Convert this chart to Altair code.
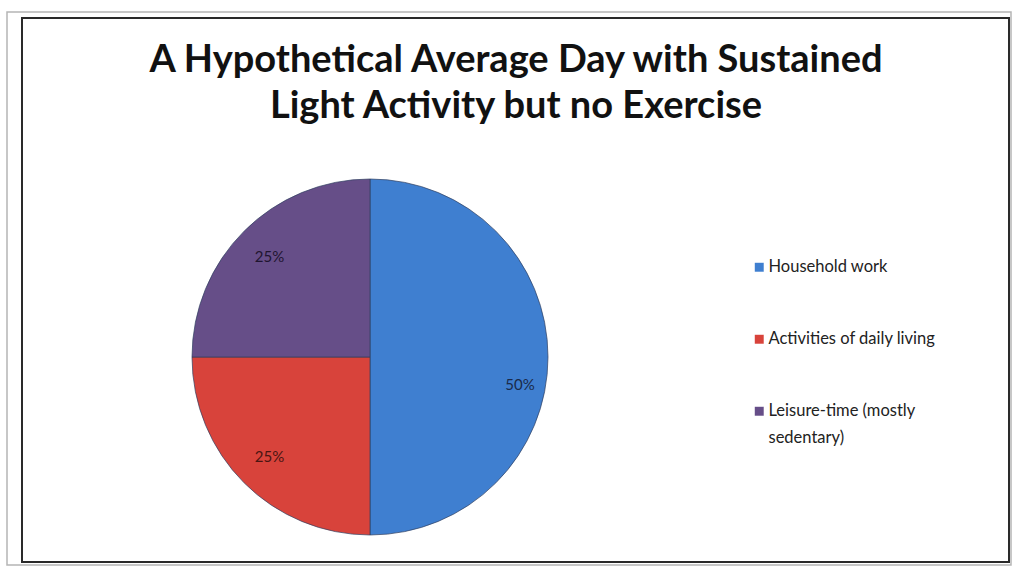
import altair as alt
import pandas as pd

# Share of an average day spent in each kind of activity
categories = ["Household work", "Activities of daily living", "Leisure-time (mostly sedentary)"]
shares = [50, 25, 25]
labels = ["50%", "25%", "25%"]
colors = ["#3f7fd0", "#d8433b", "#664e88"]
label_colors = ["#1a2a4a", "#4a1512", "#1f1530"]
title_lines = ["A Hypothetical Average Day with Sustained", "Light Activity but no Exercise"]

df = pd.DataFrame({
    "category": categories,
    "share": shares,
    "label": labels,
    "order": list(range(len(categories))),
    "label_color": label_colors,
})

W, H = 1013, 569
CX, CY, R = 370, 357, 178

color_scale = alt.Scale(domain=categories, range=colors)
theta_scale = alt.Scale(domain=[0, 100], range=[0, 6.283185307179586])

pie = alt.Chart(df).mark_arc(
    outerRadius=R, stroke="#2f3f5f", strokeWidth=1, strokeOpacity=0.7
).encode(
    theta=alt.Theta("share:Q", stack=True),
    order=alt.Order("order:Q"),
    x=alt.value(CX),
    y=alt.value(CY),
    color=alt.Color(
        "category:N",
        scale=color_scale,
        sort=categories,
        legend=alt.Legend(
            title=None,
            orient="none",
            legendX=751,
            legendY=259,
            symbolType="square",
            symbolSize=80,
            symbolStrokeWidth=0,
            labelFont="Lato",
            labelFontSize=16.5,
            labelColor="#222222",
            labelLimit=300,
            labelOffset=1,
            rowPadding=55,
            labelBaseline="middle",
            labelExpr="datum.label == 'Leisure-time (mostly sedentary)' ? ['Leisure-time (mostly', 'sedentary)'] : datum.label",
        ),
    ),
)

# Mid-angle of each slice, computed once so later filters keep the positions
labelled = alt.Chart(df).transform_window(
    cum="sum(share)", sort=[alt.SortField("order")]
).transform_calculate(
    mid="datum.cum - datum.share / 2"
)

pct_small = labelled.transform_filter(alt.datum.share < 50).mark_text(
    radius=142, font="Lato", fontSize=15
).encode(
    theta=alt.Theta("mid:Q", scale=theta_scale, stack=False),
    x=alt.value(CX),
    y=alt.value(CY),
    text="label:N",
    color=alt.Color("label_color:N", scale=None),
)

# The big slice's label sits a little below its midline
pct_big = labelled.transform_filter(alt.datum.share >= 50).mark_text(
    radius=150, dy=28, font="Lato", fontSize=15
).encode(
    theta=alt.Theta("mid:Q", scale=theta_scale, stack=False),
    x=alt.value(CX),
    y=alt.value(CY),
    text="label:N",
    color=alt.Color("label_color:N", scale=None),
)

frame_src = pd.DataFrame({"k": [0]})
outer_frame = alt.Chart(frame_src).mark_rect(
    fill=None, stroke="#b5b5b5", strokeWidth=1.5
).encode(x=alt.value(7), x2=alt.value(1011), y=alt.value(12), y2=alt.value(565))
inner_frame = alt.Chart(frame_src).mark_rect(
    fill=None, stroke="#2a2a2a", strokeWidth=2
).encode(x=alt.value(22), x2=alt.value(1009), y=alt.value(18), y2=alt.value(562))

title = alt.Chart(frame_src).mark_text(
    text=title_lines,
    font="Lato",
    fontSize=38,
    fontWeight="bold",
    color="#111111",
    align="center",
    baseline="alphabetic",
    lineHeight=46,
).encode(x=alt.value(516), y=alt.value(72))

chart = alt.layer(outer_frame, inner_frame, title, pie, pct_small, pct_big).properties(
    width=W,
    height=H,
).configure(
    autosize=alt.AutoSizeParams(type="none"),
    padding=0,
    background="white",
    style={"guide-label": {"lineHeight": 27}},
).configure_view(stroke=None)

chart.save("out.html", embed_options={"renderer": "svg", "actions": False})
